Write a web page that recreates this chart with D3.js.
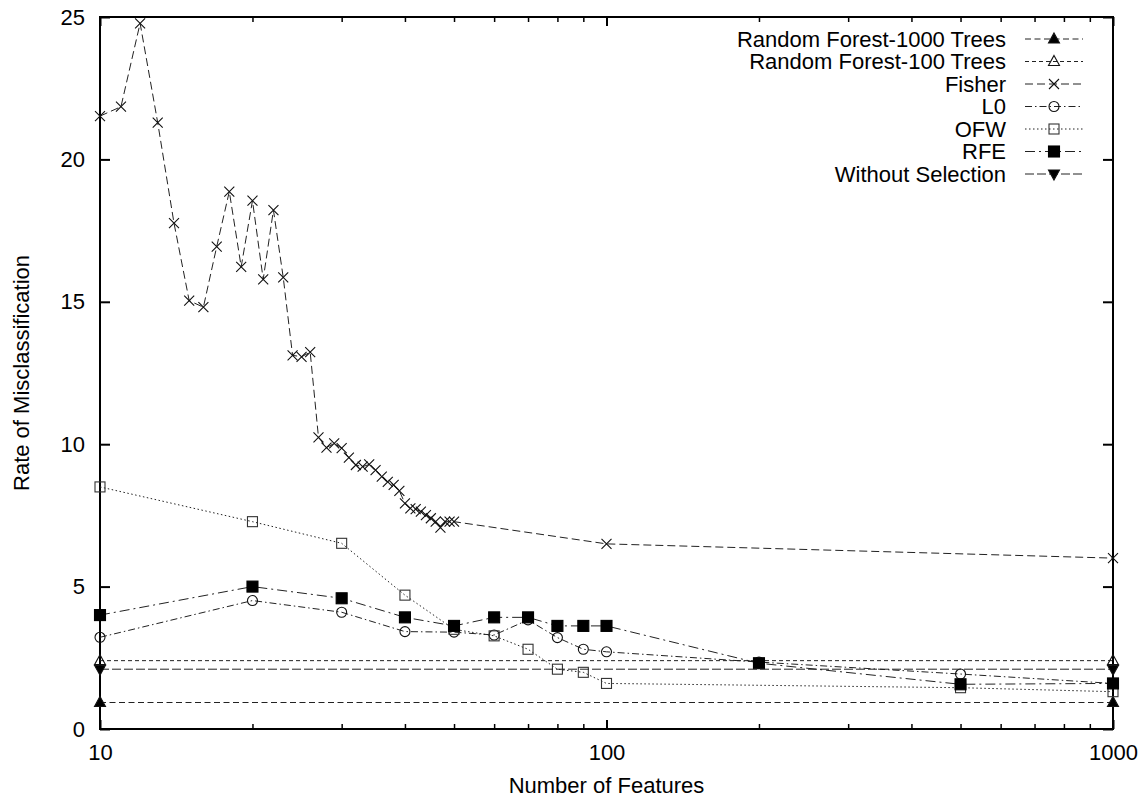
<!DOCTYPE html>
<html>
<head>
<meta charset="utf-8">
<script src="https://cdn.jsdelivr.net/npm/d3@7"></script>
<style>
  body { margin: 0; background: #fff; }
  text { font-family: "Liberation Sans", Arial, Helvetica, sans-serif; fill: #000; }
</style>
</head>
<body>
<div id="chart"></div>
<script>
// values
const fisherX = [10, 11, 12, 13, 14, 15, 16, 17, 18, 19, 20, 21, 22, 23, 24, 25, 26,
    27, 28, 29, 30, 31, 32, 33, 34, 35, 36, 37, 38, 39, 40, 41, 42, 43, 44, 45, 46, 47, 48, 49, 50,
    100, 1000];
const fisherY = [21.52, 21.85, 24.78, 21.29, 17.76, 15.04, 14.81, 16.94, 18.87, 16.23, 18.55, 15.79, 18.22, 15.86, 13.12, 13.07, 13.23,
    10.24, 9.88, 10.03, 9.86, 9.53, 9.27, 9.21, 9.29, 9.09, 8.86, 8.68, 8.57, 8.36, 7.92, 7.75, 7.72, 7.63, 7.51, 7.40, 7.28, 7.07, 7.28, 7.28, 7.28,
    6.5, 6.0];
const ofwX = [10, 20, 30, 40, 50, 60, 70, 80, 90, 100, 500, 1000];
const ofwY = [8.5, 7.28, 6.52, 4.7, 3.5, 3.27, 2.8, 2.1, 1.99, 1.6, 1.45, 1.31];
const l0X = [10, 20, 30, 40, 50, 60, 70, 80, 90, 100, 200, 500, 1000];
const l0Y = [3.22, 4.51, 4.1, 3.42, 3.4, 3.3, 3.83, 3.21, 2.8, 2.71, 2.35, 1.93, 1.6];
const rfeX = [10, 20, 30, 40, 50, 60, 70, 80, 90, 100, 200, 500, 1000];
const rfeY = [4.0, 5.0, 4.59, 3.92, 3.62, 3.92, 3.92, 3.62, 3.62, 3.62, 2.31, 1.57, 1.6];
const rf1000X = [10, 1000];
const rf1000Y = [0.93, 0.93];
const rf100X = [10, 1000];
const rf100Y = [2.4, 2.4];
const noselX = [10, 1000];
const noselY = [2.1, 2.1];

const xMajor = [10, 100, 1000];
const xMinor = [20, 30, 40, 50, 60, 70, 80, 90, 200, 300, 400, 500, 600, 700, 800, 900];
const yTicks = [0, 5, 10, 15, 20, 25];

let width = 1146,
    height = 797,
    margin = { top: 17, right: 33, bottom: 68, left: 100 };

// plot order = legend order
const series = [
    { name: "Random Forest-1000 Trees", xs: rf1000X, ys: rf1000Y, dash: "6,3.5", mark: "triUp", fill: true },
    { name: "Random Forest-100 Trees", xs: rf100X, ys: rf100Y, dash: "4,3", mark: "triUp", fill: false },
    { name: "Fisher", xs: fisherX, ys: fisherY, dash: "8,4", mark: "cross", fill: false },
    { name: "L0", xs: l0X, ys: l0Y, dash: "7,3,1.5,3", mark: "circle", fill: false },
    { name: "OFW", xs: ofwX, ys: ofwY, dash: "1.5,2.5", mark: "square", fill: false },
    { name: "RFE", xs: rfeX, ys: rfeY, dash: "10,4,2,4", mark: "square", fill: true },
    { name: "Without Selection", xs: noselX, ys: noselY, dash: "9,3", mark: "triDown", fill: true },
];

const svg = d3.select("#chart")
    .append("svg")
    .attr("width", width)
    .attr("height", height)
    .attr("viewBox", [0, 0, width, height]);

let x = d3.scaleLog()
    .domain([10, 1000])
    .range([margin.left, width - margin.right]);

let y = d3.scaleLinear()
    .domain([0, 25])
    .range([height - margin.bottom, margin.top]);

const innerW = width - margin.left - margin.right,
    innerH = height - margin.top - margin.bottom;

function styleAxis(g) {
    g.select(".domain").remove();
    g.selectAll("line").attr("stroke", "#000");
    g.selectAll("text").style("font-size", "22px").attr("fill", "#000");
}

// bottom axis, ticks pointing inward
svg.append("g")
    .attr("transform", `translate(0,${height - margin.bottom})`)
    .call(d3.axisBottom(x).tickValues(xMajor).tickFormat(d3.format("d")).tickSize(-9).tickPadding(15))
    .call(styleAxis)
    .selectAll("line").attr("stroke-width", 2);
svg.append("g")
    .attr("transform", `translate(0,${height - margin.bottom})`)
    .call(d3.axisBottom(x).tickValues(xMinor).tickFormat("").tickSize(-5))
    .call(styleAxis)
    .selectAll("line").attr("stroke-width", 1.5);

// top mirror
svg.append("g")
    .attr("transform", `translate(0,${margin.top})`)
    .call(d3.axisTop(x).tickValues(xMajor).tickFormat("").tickSize(-9))
    .call(styleAxis)
    .selectAll("line").attr("stroke-width", 2);
svg.append("g")
    .attr("transform", `translate(0,${margin.top})`)
    .call(d3.axisTop(x).tickValues(xMinor).tickFormat("").tickSize(-5))
    .call(styleAxis)
    .selectAll("line").attr("stroke-width", 1.5);

// left + right y axes
svg.append("g")
    .attr("transform", `translate(${margin.left},0)`)
    .call(d3.axisLeft(y).tickValues(yTicks).tickSize(-10).tickPadding(15))
    .call(styleAxis)
    .selectAll("line").attr("stroke-width", 2);
svg.append("g")
    .attr("transform", `translate(${width - margin.right},0)`)
    .call(d3.axisRight(y).tickValues(yTicks).tickFormat("").tickSize(-10))
    .call(styleAxis)
    .selectAll("line").attr("stroke-width", 2);

// border
svg.append("rect")
    .attr("x", margin.left)
    .attr("y", margin.top)
    .attr("width", innerW)
    .attr("height", innerH)
    .attr("fill", "none")
    .attr("stroke", "#000")
    .attr("stroke-width", 2);

function marker(g, type, fill) {
    const stroke = "#111";
    if (type == "cross") {
        g.append("path").attr("d", "M-5,-5L5,5M-5,5L5,-5")
            .attr("stroke", stroke).attr("stroke-width", 1.1).attr("fill", "none");
    } else if (type == "circle") {
        g.append("circle").attr("r", 5)
            .attr("fill", fill ? "#000" : "none").attr("stroke", stroke).attr("stroke-width", 1.1);
    } else if (type == "square") {
        const s = fill ? 11 : 10;
        g.append("rect").attr("x", -s / 2).attr("y", -s / 2).attr("width", s).attr("height", s)
            .attr("fill", fill ? "#000" : "none").attr("stroke", fill ? "#000" : "#333").attr("stroke-width", 1.1);
    } else if (type == "triUp") {
        g.append("path").attr("d", "M0,-6L5.5,4L-5.5,4Z")
            .attr("fill", fill ? "#000" : "none").attr("stroke", stroke).attr("stroke-width", 1.1);
    } else if (type == "triDown") {
        g.append("path").attr("d", "M0,6L5.5,-4L-5.5,-4Z")
            .attr("fill", fill ? "#000" : "none").attr("stroke", stroke).attr("stroke-width", 1.1);
    }
}

const line = d3.line().x((d) => x(d[0])).y((d) => y(d[1]));

for (let s of series) {
    const pts = d3.zip(s.xs, s.ys);
    const g = svg.append("g").attr("class", "series");
    g.append("path")
        .datum(pts)
        .attr("d", line)
        .attr("fill", "none")
        .attr("stroke", "#222")
        .attr("stroke-width", 1)
        .attr("stroke-dasharray", s.dash);
    g.selectAll("g.pt")
        .data(pts)
        .join("g")
        .attr("class", "pt")
        .attr("transform", (d) => `translate(${x(d[0])},${y(d[1])})`)
        .each(function () { marker(d3.select(this), s.mark, s.fill); });
}

// legend, top right, gnuplot style
const legend = svg.append("g").attr("class", "legend");
series.forEach((s, i) => {
    const ly = 39 + i * 22.5;
    legend.append("text")
        .attr("x", 1006)
        .attr("y", ly)
        .attr("dy", "0.35em")
        .attr("text-anchor", "end")
        .style("font-size", "22px")
        .text(s.name);
    legend.append("line")
        .attr("x1", 1025).attr("x2", 1083)
        .attr("y1", ly).attr("y2", ly)
        .attr("stroke", "#222")
        .attr("stroke-width", 1)
        .attr("stroke-dasharray", s.dash);
    const m = legend.append("g").attr("transform", `translate(1054,${ly})`);
    marker(m, s.mark, s.fill);
});

// axis titles
svg.append("text")
    .attr("x", (margin.left + width - margin.right) / 2)
    .attr("y", 793)
    .attr("text-anchor", "middle")
    .style("font-size", "22px")
    .text("Number of Features");

svg.append("text")
    .attr("transform", "rotate(-90)")
    .attr("x", -373)
    .attr("y", 29)
    .attr("text-anchor", "middle")
    .style("font-size", "22px")
    .text("Rate of Misclassification");
</script>
</body>
</html>
